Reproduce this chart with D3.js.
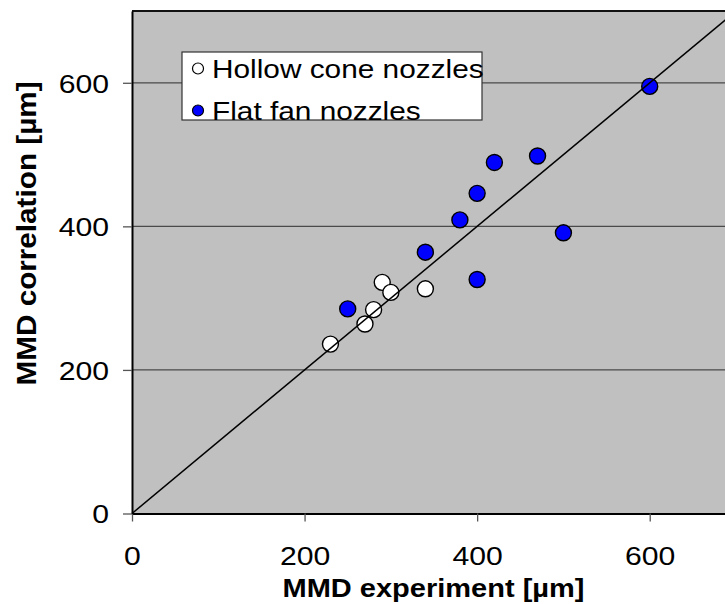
<!DOCTYPE html>
<html>
<head>
<meta charset="utf-8">
<script src="https://cdn.jsdelivr.net/npm/d3@7"></script>
<style>
  html, body { margin: 0; padding: 0; background: #fff; }
  svg { display: block; font-family: "Liberation Sans", Arial, Helvetica, sans-serif; }
</style>
</head>
<body>
<svg id="chart" width="725" height="604"></svg>
<script>
// Measured vs. correlated mass median diameter (µm)
const hollowX = [230, 270, 280, 290, 300, 340];
const hollowY = [236, 264, 284, 322, 308, 313];
const flatX = [250, 340, 380, 400, 420, 470, 400, 500, 600];
const flatY = [285, 364, 409, 446, 489, 498, 326, 391, 595];
const tickValues = [0, 200, 400, 600];
const gridValues = [200, 400, 600];
const seriesNames = ["Hollow cone nozzles", "Flat fan nozzles"];
const xTitle = "MMD experiment [µm]";
const yTitle = "MMD correlation [µm]";

// text in this chart is set slightly wide
const WIDE = 1.16;
function widen(sel, k) {
  sel.each(function () {
    const w = this.getComputedTextLength();
    d3.select(this).attr("textLength", w * k).attr("lengthAdjust", "spacingAndGlyphs");
  });
}

const svg = d3.select("#chart");

const x = d3.scaleLinear().domain([0, 700]).range([132, 736]);
const y = d3.scaleLinear().domain([0, 700]).range([513.5, 11]);

// plot area background
svg.append("rect")
  .attr("x", x(0)).attr("y", y(700))
  .attr("width", x(700) - x(0)).attr("height", y(0) - y(700))
  .attr("fill", "#c0c0c0");

// horizontal gridlines
svg.append("g").selectAll("line").data(gridValues).join("line")
  .attr("x1", x(0)).attr("x2", x(700))
  .attr("y1", d => y(d)).attr("y2", d => y(d))
  .attr("stroke", "#4a4a4a").attr("stroke-width", 1.3);

// top border
svg.append("line")
  .attr("x1", x(0)).attr("x2", x(700))
  .attr("y1", y(700)).attr("y2", y(700))
  .attr("stroke", "#111").attr("stroke-width", 2);

// axes
const xAxis = svg.append("g")
  .attr("transform", `translate(0,${y(0)})`)
  .call(d3.axisBottom(x).tickValues(tickValues).tickSize(8).tickSizeOuter(0)
    .tickPadding(25).tickFormat(d3.format("d")));
const yAxis = svg.append("g")
  .attr("transform", `translate(${x(0)},0)`)
  .call(d3.axisLeft(y).tickValues(tickValues).tickSize(9).tickSizeOuter(0)
    .tickPadding(14).tickFormat(d3.format("d")));

[xAxis, yAxis].forEach(g => {
  g.select(".domain").attr("stroke", "#000").attr("stroke-width", 2);
  g.selectAll(".tick line").attr("stroke", "#555").attr("stroke-width", 1.3);
  g.selectAll(".tick text")
    .attr("fill", "#000")
    .style("font-size", "26px")
    .style("font-family", "'Liberation Sans', Arial, sans-serif");
});
xAxis.selectAll(".tick text").attr("dy", "0.71em");
yAxis.selectAll(".tick text").attr("dy", "0.36em");
widen(xAxis.selectAll(".tick text"), WIDE);
widen(yAxis.selectAll(".tick text"), WIDE);

// data markers
const hollow = hollowX.map((v, i) => ({ x: v, y: hollowY[i] }));
const flat = flatX.map((v, i) => ({ x: v, y: flatY[i] }));

svg.append("g").selectAll("circle").data(hollow).join("circle")
  .attr("cx", d => x(d.x)).attr("cy", d => y(d.y)).attr("r", 8)
  .attr("fill", "#fff").attr("stroke", "#000").attr("stroke-width", 1.4);

svg.append("g").selectAll("circle").data(flat).join("circle")
  .attr("cx", d => x(d.x)).attr("cy", d => y(d.y)).attr("r", 8)
  .attr("fill", "#0000ff").attr("stroke", "#000").attr("stroke-width", 1.4);

// 1:1 reference line
svg.append("line")
  .attr("x1", x(0)).attr("y1", y(0))
  .attr("x2", x(700)).attr("y2", y(700))
  .attr("stroke", "#000").attr("stroke-width", 1.5);

// legend
const legend = svg.append("g");
legend.append("rect")
  .attr("x", 182).attr("y", 52).attr("width", 300).attr("height", 68)
  .attr("fill", "#fff").attr("stroke", "#333").attr("stroke-width", 1.2);
const legendRows = [
  { name: seriesNames[0], fill: "#fff", cy: 68.5 },
  { name: seriesNames[1], fill: "#0000ff", cy: 110.5 }
];
legendRows.forEach(r => {
  legend.append("circle")
    .attr("cx", 198).attr("cy", r.cy).attr("r", 5.5)
    .attr("fill", r.fill).attr("stroke", "#000").attr("stroke-width", 1.2);
  legend.append("text")
    .attr("x", 212).attr("y", r.cy + 9)
    .style("font-size", "25.7px")
    .attr("fill", "#000")
    .text(r.name)
    .call(widen, WIDE);
});

// axis titles
svg.append("text")
  .attr("x", 433.5).attr("y", 597)
  .attr("text-anchor", "middle")
  .style("font-size", "25px").style("font-weight", "bold")
  .text(xTitle)
  .call(widen, WIDE);

svg.append("text")
  .attr("transform", `translate(36,${233.5}) rotate(-90)`)
  .attr("text-anchor", "middle")
  .style("font-size", "28px").style("font-weight", "bold")
  .text(yTitle)
  .call(widen, 1.06);
</script>
</body>
</html>
